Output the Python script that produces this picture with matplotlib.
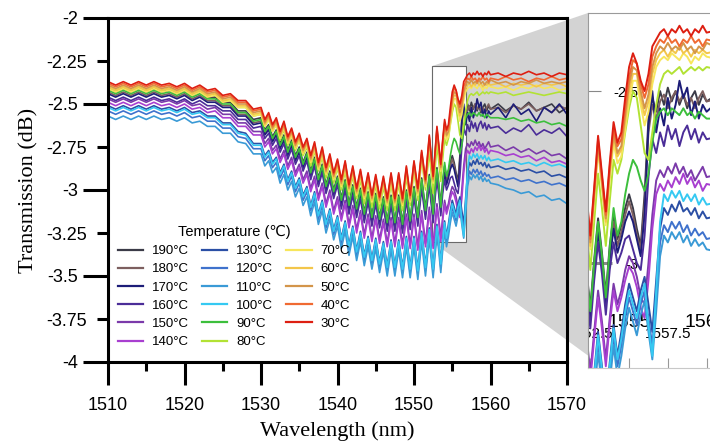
import matplotlib
matplotlib.use("Agg")
import matplotlib.pyplot as plt
from matplotlib.patches import Polygon, Rectangle
from matplotlib.lines import Line2D

# ---------------- data ----------------
wavelength_nm = [
    1510, 1511, 1512, 1513, 1514, 1515, 1516, 1517, 1518, 1519,
    1520, 1521, 1522, 1523, 1524, 1525, 1526, 1527, 1528, 1529,
    1530, 1530.5, 1531, 1531.5, 1532, 1532.5, 1533, 1533.5, 1534, 1534.5,
    1535, 1535.5, 1536, 1536.5, 1537, 1537.5, 1538, 1538.5, 1539, 1539.5,
    1540, 1540.5, 1541, 1541.5, 1542, 1542.5, 1543, 1543.5, 1544, 1544.5,
    1545, 1545.5, 1546, 1546.5, 1547, 1547.5, 1548, 1548.5, 1549, 1549.5,
    1550, 1550.5, 1551, 1551.5,
    1552, 1552.25, 1552.5, 1552.75, 1553, 1553.25, 1553.5, 1553.75, 1554, 1554.25,
    1554.5, 1554.75, 1555, 1555.25, 1555.5, 1555.75, 1556, 1556.25, 1556.5, 1556.75,
    1557, 1557.25, 1557.5, 1557.75, 1558, 1558.25, 1558.5, 1558.75, 1559, 1559.25,
    1559.5, 1559.75, 1560,
    1561, 1562, 1563, 1564, 1565, 1566, 1567, 1568, 1569, 1570]

t190 = [-2.41, -2.43, -2.41, -2.43, -2.41, -2.43, -2.41, -2.43, -2.42, -2.44, -2.42, -2.45, -2.43, -2.46, -2.46, -2.49, -2.49, -2.54, -2.54, -2.59,
        -2.58, -2.65, -2.62, -2.69, -2.65, -2.73, -2.68, -2.77, -2.71, -2.80, -2.75, -2.84, -2.78, -2.89, -2.81, -2.93, -2.85, -2.97, -2.89, -3.00, -2.92, -3.05, -2.94, -3.08, -2.97, -3.10, -2.99, -3.13, -3.01, -3.15, -3.02, -3.16, -3.04, -3.18, -3.03, -3.18, -3.03, -3.19, -3.00, -3.17, -2.98, -3.15, -2.93, -3.11,
        -2.91, -3.02, -3.13, -2.99, -2.87, -2.97, -3.09, -2.95, -2.86, -2.93, -2.89, -2.84, -2.80, -2.84, -2.90, -2.95, -2.80, -2.58, -2.52, -2.56, -2.50, -2.54, -2.49, -2.53, -2.50, -2.54, -2.51, -2.55, -2.52, -2.50, -2.54, -2.51, -2.53,
        -2.50, -2.54, -2.51, -2.53, -2.49, -2.54, -2.52, -2.50, -2.55, -2.52]
t180 = [-2.43, -2.45, -2.43, -2.45, -2.43, -2.45, -2.43, -2.45, -2.44, -2.46, -2.44, -2.47, -2.45, -2.48, -2.48, -2.51, -2.51, -2.56, -2.56, -2.61,
        -2.60, -2.67, -2.64, -2.71, -2.67, -2.75, -2.70, -2.79, -2.73, -2.82, -2.77, -2.86, -2.80, -2.91, -2.83, -2.95, -2.87, -2.99, -2.91, -3.02, -2.94, -3.07, -2.96, -3.10, -2.99, -3.12, -3.01, -3.15, -3.03, -3.17, -3.04, -3.18, -3.06, -3.20, -3.05, -3.20, -3.05, -3.21, -3.02, -3.19, -3.00, -3.17, -2.95, -3.13,
        -2.93, -3.04, -3.15, -3.01, -2.89, -2.99, -3.11, -2.97, -2.88, -2.95, -2.91, -2.86, -2.82, -2.86, -2.92, -2.96, -2.83, -2.62, -2.54, -2.58, -2.53, -2.51, -2.55, -2.52, -2.50, -2.53, -2.51, -2.54, -2.52, -2.55, -2.52, -2.50, -2.53,
        -2.52, -2.55, -2.51, -2.53, -2.50, -2.54, -2.52, -2.55, -2.51, -2.53]
t170 = [-2.44, -2.46, -2.44, -2.46, -2.44, -2.46, -2.44, -2.46, -2.45, -2.47, -2.45, -2.48, -2.46, -2.49, -2.49, -2.52, -2.52, -2.57, -2.57, -2.62,
        -2.61, -2.68, -2.65, -2.72, -2.68, -2.76, -2.71, -2.80, -2.74, -2.83, -2.78, -2.87, -2.81, -2.92, -2.84, -2.96, -2.88, -3.00, -2.92, -3.03, -2.95, -3.08, -2.97, -3.11, -3.00, -3.13, -3.02, -3.16, -3.04, -3.18, -3.05, -3.19, -3.07, -3.21, -3.06, -3.21, -3.06, -3.22, -3.03, -3.20, -3.01, -3.18, -2.96, -3.14,
        -2.94, -3.05, -3.16, -3.02, -2.91, -3.00, -3.12, -2.99, -2.90, -2.97, -2.93, -2.88, -2.85, -2.88, -2.93, -2.98, -2.86, -2.60, -2.50, -2.62, -2.55, -2.60, -2.52, -2.58, -2.54, -2.47, -2.52, -2.49, -2.57, -2.53, -2.58, -2.54, -2.56,
        -2.52, -2.58, -2.50, -2.56, -2.53, -2.60, -2.52, -2.55, -2.50, -2.56]
t160 = [-2.46, -2.48, -2.46, -2.48, -2.46, -2.48, -2.46, -2.48, -2.47, -2.49, -2.47, -2.50, -2.48, -2.51, -2.51, -2.54, -2.54, -2.59, -2.59, -2.64,
        -2.63, -2.70, -2.67, -2.74, -2.70, -2.78, -2.73, -2.82, -2.76, -2.85, -2.80, -2.89, -2.83, -2.94, -2.86, -2.98, -2.90, -3.02, -2.94, -3.05, -2.97, -3.11, -3.00, -3.14, -3.03, -3.16, -3.05, -3.19, -3.07, -3.21, -3.08, -3.22, -3.10, -3.24, -3.09, -3.24, -3.09, -3.25, -3.06, -3.23, -3.04, -3.21, -2.99, -3.17,
        -2.97, -3.08, -3.19, -3.05, -2.94, -3.03, -3.15, -3.02, -2.94, -3.00, -2.97, -2.93, -2.92, -2.96, -3.00, -3.02, -2.92, -2.75, -2.64, -2.68, -2.62, -2.66, -2.60, -2.64, -2.61, -2.66, -2.62, -2.60, -2.64, -2.61, -2.65, -2.62, -2.64,
        -2.63, -2.67, -2.64, -2.66, -2.62, -2.68, -2.65, -2.67, -2.64, -2.69]
t150 = [-2.47, -2.49, -2.47, -2.49, -2.47, -2.49, -2.47, -2.49, -2.48, -2.50, -2.48, -2.51, -2.50, -2.53, -2.52, -2.56, -2.56, -2.61, -2.61, -2.66,
        -2.66, -2.73, -2.70, -2.77, -2.74, -2.82, -2.77, -2.86, -2.81, -2.90, -2.85, -2.94, -2.89, -2.99, -2.92, -3.04, -2.96, -3.08, -3.00, -3.12, -3.04, -3.16, -3.06, -3.20, -3.09, -3.23, -3.12, -3.26, -3.14, -3.28, -3.15, -3.29, -3.17, -3.31, -3.16, -3.31, -3.16, -3.32, -3.14, -3.32, -3.14, -3.33, -3.12, -3.31,
        -3.10, -3.21, -3.32, -3.20, -3.08, -3.17, -3.28, -3.16, -3.06, -3.12, -3.08, -3.02, -2.98, -3.00, -3.04, -3.10, -3.12, -3.00, -2.86, -2.76, -2.73, -2.75, -2.72, -2.74, -2.71, -2.74, -2.72, -2.75, -2.73, -2.76, -2.74, -2.72, -2.75,
        -2.74, -2.77, -2.75, -2.78, -2.76, -2.79, -2.77, -2.80, -2.79, -2.82]
t140 = [-2.49, -2.51, -2.49, -2.51, -2.49, -2.51, -2.49, -2.51, -2.50, -2.52, -2.50, -2.53, -2.52, -2.55, -2.54, -2.58, -2.58, -2.63, -2.63, -2.68,
        -2.68, -2.75, -2.72, -2.79, -2.76, -2.84, -2.79, -2.88, -2.83, -2.92, -2.87, -2.96, -2.91, -3.01, -2.94, -3.06, -2.98, -3.10, -3.02, -3.14, -3.06, -3.18, -3.08, -3.22, -3.11, -3.25, -3.14, -3.28, -3.16, -3.30, -3.17, -3.31, -3.19, -3.33, -3.18, -3.33, -3.18, -3.34, -3.16, -3.34, -3.16, -3.35, -3.14, -3.33,
        -3.12, -3.23, -3.34, -3.22, -3.10, -3.19, -3.30, -3.18, -3.08, -3.14, -3.10, -3.05, -3.01, -3.03, -3.07, -3.13, -3.16, -3.05, -2.90, -2.80, -2.77, -2.79, -2.76, -2.78, -2.75, -2.77, -2.74, -2.77, -2.75, -2.78, -2.76, -2.79, -2.77,
        -2.78, -2.80, -2.79, -2.81, -2.80, -2.83, -2.81, -2.84, -2.83, -2.85]
t130 = [-2.51, -2.53, -2.51, -2.53, -2.51, -2.53, -2.51, -2.53, -2.52, -2.54, -2.52, -2.55, -2.54, -2.57, -2.57, -2.61, -2.61, -2.66, -2.67, -2.73,
        -2.73, -2.80, -2.77, -2.84, -2.81, -2.90, -2.85, -2.94, -2.89, -2.98, -2.93, -3.03, -2.98, -3.09, -3.01, -3.14, -3.06, -3.19, -3.11, -3.23, -3.15, -3.28, -3.18, -3.32, -3.21, -3.35, -3.24, -3.38, -3.27, -3.40, -3.28, -3.42, -3.30, -3.44, -3.29, -3.44, -3.29, -3.45, -3.27, -3.45, -3.27, -3.46, -3.24, -3.44,
        -3.22, -3.34, -3.45, -3.32, -3.20, -3.30, -3.42, -3.29, -3.18, -3.27, -3.20, -3.12, -3.06, -3.10, -3.14, -3.08, -3.04, -3.12, -3.20, -3.05, -2.90, -2.84, -2.86, -2.83, -2.85, -2.82, -2.85, -2.84, -2.86, -2.84, -2.87, -2.85, -2.87,
        -2.86, -2.88, -2.87, -2.89, -2.88, -2.90, -2.89, -2.92, -2.91, -2.93]
t120 = [-2.54, -2.56, -2.54, -2.56, -2.54, -2.56, -2.54, -2.56, -2.55, -2.57, -2.55, -2.58, -2.57, -2.60, -2.60, -2.64, -2.64, -2.69, -2.70, -2.76,
        -2.76, -2.83, -2.80, -2.87, -2.84, -2.93, -2.88, -2.97, -2.92, -3.01, -2.96, -3.06, -3.01, -3.12, -3.04, -3.17, -3.09, -3.22, -3.14, -3.26, -3.18, -3.31, -3.21, -3.35, -3.24, -3.38, -3.27, -3.41, -3.30, -3.43, -3.31, -3.45, -3.33, -3.47, -3.32, -3.47, -3.32, -3.48, -3.30, -3.48, -3.30, -3.49, -3.27, -3.47,
        -3.25, -3.37, -3.48, -3.35, -3.23, -3.33, -3.45, -3.32, -3.21, -3.30, -3.24, -3.16, -3.10, -3.14, -3.18, -3.12, -3.08, -3.16, -3.24, -3.10, -2.94, -2.89, -2.91, -2.88, -2.90, -2.88, -2.91, -2.89, -2.92, -2.90, -2.92, -2.91, -2.93,
        -2.92, -2.94, -2.93, -2.95, -2.94, -2.96, -2.95, -2.97, -2.96, -2.98]
t110 = [-2.57, -2.59, -2.57, -2.59, -2.57, -2.59, -2.57, -2.59, -2.58, -2.60, -2.58, -2.61, -2.60, -2.63, -2.63, -2.67, -2.67, -2.72, -2.73, -2.79,
        -2.79, -2.86, -2.83, -2.90, -2.87, -2.96, -2.91, -3.00, -2.95, -3.04, -2.99, -3.09, -3.04, -3.15, -3.07, -3.20, -3.12, -3.25, -3.17, -3.29, -3.21, -3.34, -3.24, -3.38, -3.27, -3.41, -3.30, -3.44, -3.33, -3.46, -3.34, -3.48, -3.36, -3.50, -3.35, -3.50, -3.35, -3.51, -3.33, -3.51, -3.33, -3.52, -3.30, -3.50,
        -3.28, -3.40, -3.51, -3.38, -3.26, -3.36, -3.48, -3.35, -3.24, -3.33, -3.27, -3.19, -3.13, -3.17, -3.21, -3.15, -3.11, -3.20, -3.28, -3.14, -2.98, -2.92, -2.94, -2.91, -2.93, -2.91, -2.94, -2.92, -2.95, -2.93, -2.95, -2.94, -2.96,
        -2.97, -2.99, -3.00, -3.02, -3.01, -3.04, -3.03, -3.06, -3.05, -3.08]
t100 = [-2.52, -2.54, -2.52, -2.54, -2.52, -2.54, -2.52, -2.54, -2.53, -2.55, -2.53, -2.56, -2.55, -2.58, -2.58, -2.62, -2.62, -2.67, -2.68, -2.74,
        -2.74, -2.81, -2.78, -2.85, -2.82, -2.91, -2.86, -2.95, -2.90, -2.99, -2.94, -3.04, -2.99, -3.10, -3.02, -3.15, -3.07, -3.20, -3.12, -3.24, -3.16, -3.29, -3.19, -3.33, -3.22, -3.36, -3.25, -3.39, -3.28, -3.41, -3.29, -3.43, -3.31, -3.45, -3.30, -3.45, -3.30, -3.46, -3.28, -3.46, -3.28, -3.47, -3.25, -3.45,
        -3.23, -3.35, -3.46, -3.33, -3.21, -3.31, -3.43, -3.30, -3.19, -3.28, -3.22, -3.14, -3.08, -3.12, -3.16, -3.10, -3.06, -3.18, -3.27, -3.08, -2.88, -2.80, -2.82, -2.79, -2.81, -2.79, -2.82, -2.80, -2.82, -2.80, -2.83, -2.81, -2.83,
        -2.82, -2.84, -2.83, -2.85, -2.84, -2.86, -2.84, -2.86, -2.85, -2.87]
t90 = [-2.42, -2.44, -2.42, -2.44, -2.42, -2.44, -2.42, -2.44, -2.43, -2.45, -2.43, -2.46, -2.44, -2.47, -2.47, -2.50, -2.50, -2.55, -2.55, -2.60,
       -2.59, -2.66, -2.63, -2.70, -2.66, -2.74, -2.69, -2.78, -2.72, -2.81, -2.76, -2.85, -2.79, -2.90, -2.82, -2.94, -2.86, -2.98, -2.90, -3.01, -2.93, -3.06, -2.95, -3.09, -2.98, -3.11, -3.00, -3.14, -3.02, -3.16, -3.03, -3.17, -3.05, -3.19, -3.04, -3.19, -3.04, -3.20, -3.01, -3.18, -2.99, -3.16, -2.94, -3.12,
       -2.92, -3.03, -3.14, -3.00, -2.88, -2.98, -3.10, -2.96, -2.84, -2.92, -2.88, -2.80, -2.74, -2.70, -2.72, -2.76, -2.79, -2.74, -2.65, -2.58, -2.56, -2.55, -2.57, -2.55, -2.56, -2.57, -2.55, -2.57, -2.56, -2.58, -2.56, -2.57, -2.58,
       -2.58, -2.59, -2.58, -2.60, -2.59, -2.61, -2.60, -2.62, -2.61, -2.63]
t80 = [-2.40, -2.42, -2.40, -2.42, -2.40, -2.42, -2.40, -2.42, -2.41, -2.43, -2.41, -2.44, -2.42, -2.45, -2.44, -2.48, -2.48, -2.52, -2.52, -2.57,
       -2.56, -2.63, -2.59, -2.66, -2.62, -2.71, -2.65, -2.74, -2.68, -2.77, -2.71, -2.80, -2.75, -2.86, -2.77, -2.89, -2.81, -2.93, -2.84, -2.96, -2.87, -3.00, -2.89, -3.03, -2.92, -3.05, -2.94, -3.08, -2.96, -3.10, -2.97, -3.11, -2.98, -3.12, -2.96, -3.12, -2.96, -3.12, -2.92, -3.09, -2.89, -3.06, -2.82, -3.00,
       -2.78, -2.90, -3.02, -2.88, -2.74, -2.84, -2.95, -2.82, -2.70, -2.74, -2.70, -2.62, -2.55, -2.50, -2.52, -2.60, -2.68, -2.70, -2.62, -2.54, -2.48, -2.45, -2.44, -2.45, -2.44, -2.43, -2.45, -2.44, -2.43, -2.44, -2.43, -2.44, -2.43,
       -2.44, -2.43, -2.45, -2.44, -2.43, -2.44, -2.45, -2.44, -2.43, -2.44]
t70 = [-2.41, -2.43, -2.41, -2.43, -2.41, -2.43, -2.41, -2.43, -2.42, -2.44, -2.42, -2.45, -2.43, -2.46, -2.45, -2.49, -2.48, -2.52, -2.52, -2.57,
       -2.56, -2.63, -2.59, -2.66, -2.62, -2.70, -2.64, -2.73, -2.68, -2.76, -2.71, -2.79, -2.74, -2.84, -2.76, -2.88, -2.79, -2.91, -2.83, -2.94, -2.86, -2.98, -2.87, -3.01, -2.90, -3.03, -2.92, -3.05, -2.94, -3.07, -2.95, -3.08, -2.96, -3.09, -2.94, -3.09, -2.94, -3.09, -2.90, -3.07, -2.87, -3.03, -2.81, -2.98,
       -2.72, -2.84, -2.96, -2.82, -2.67, -2.78, -2.89, -2.76, -2.65, -2.71, -2.69, -2.61, -2.53, -2.47, -2.47, -2.54, -2.60, -2.56, -2.48, -2.43, -2.41, -2.40, -2.41, -2.39, -2.40, -2.41, -2.39, -2.40, -2.42, -2.40, -2.41, -2.39, -2.40,
       -2.41, -2.40, -2.42, -2.40, -2.41, -2.39, -2.41, -2.40, -2.42, -2.41]
t60 = [-2.40, -2.42, -2.40, -2.42, -2.40, -2.42, -2.40, -2.42, -2.41, -2.43, -2.41, -2.44, -2.42, -2.45, -2.44, -2.48, -2.47, -2.51, -2.51, -2.56,
       -2.55, -2.62, -2.58, -2.65, -2.61, -2.69, -2.63, -2.72, -2.67, -2.75, -2.70, -2.78, -2.73, -2.83, -2.75, -2.87, -2.78, -2.90, -2.82, -2.93, -2.85, -2.97, -2.86, -3.00, -2.89, -3.02, -2.91, -3.04, -2.93, -3.06, -2.94, -3.07, -2.95, -3.08, -2.93, -3.08, -2.93, -3.08, -2.89, -3.06, -2.86, -3.02, -2.80, -2.97,
       -2.71, -2.83, -2.95, -2.81, -2.66, -2.77, -2.88, -2.74, -2.63, -2.69, -2.67, -2.59, -2.50, -2.45, -2.45, -2.52, -2.57, -2.53, -2.45, -2.41, -2.39, -2.38, -2.40, -2.38, -2.39, -2.37, -2.39, -2.38, -2.40, -2.38, -2.39, -2.38, -2.39,
       -2.38, -2.40, -2.38, -2.39, -2.38, -2.40, -2.38, -2.39, -2.38, -2.40]
t50 = [-2.39, -2.41, -2.39, -2.41, -2.39, -2.41, -2.39, -2.41, -2.40, -2.42, -2.40, -2.43, -2.41, -2.44, -2.43, -2.47, -2.46, -2.50, -2.50, -2.55,
       -2.54, -2.61, -2.57, -2.64, -2.60, -2.68, -2.62, -2.71, -2.66, -2.74, -2.69, -2.77, -2.72, -2.82, -2.74, -2.86, -2.77, -2.89, -2.81, -2.92, -2.84, -2.96, -2.85, -2.99, -2.88, -3.01, -2.90, -3.03, -2.92, -3.05, -2.93, -3.06, -2.94, -3.07, -2.92, -3.07, -2.92, -3.07, -2.88, -3.05, -2.85, -3.01, -2.79, -2.96,
       -2.70, -2.82, -2.94, -2.80, -2.65, -2.76, -2.87, -2.73, -2.62, -2.68, -2.66, -2.57, -2.48, -2.43, -2.44, -2.50, -2.55, -2.51, -2.43, -2.39, -2.37, -2.38, -2.36, -2.38, -2.37, -2.38, -2.36, -2.38, -2.37, -2.39, -2.37, -2.38, -2.36,
       -2.38, -2.37, -2.39, -2.37, -2.38, -2.36, -2.38, -2.37, -2.38, -2.37]
t40 = [-2.38, -2.40, -2.38, -2.40, -2.38, -2.40, -2.38, -2.40, -2.39, -2.41, -2.39, -2.42, -2.40, -2.43, -2.42, -2.46, -2.45, -2.49, -2.49, -2.54,
       -2.53, -2.60, -2.56, -2.63, -2.59, -2.67, -2.61, -2.70, -2.65, -2.73, -2.68, -2.76, -2.71, -2.81, -2.73, -2.85, -2.76, -2.88, -2.80, -2.91, -2.83, -2.95, -2.84, -2.98, -2.87, -3.00, -2.89, -3.02, -2.91, -3.04, -2.92, -3.05, -2.93, -3.06, -2.91, -3.06, -2.91, -3.06, -2.87, -3.04, -2.84, -3.00, -2.78, -2.95,
       -2.69, -2.81, -2.93, -2.79, -2.64, -2.75, -2.86, -2.72, -2.61, -2.66, -2.64, -2.55, -2.46, -2.41, -2.42, -2.48, -2.52, -2.48, -2.40, -2.37, -2.35, -2.36, -2.34, -2.36, -2.35, -2.37, -2.35, -2.36, -2.34, -2.36, -2.35, -2.37, -2.35,
       -2.36, -2.34, -2.36, -2.35, -2.37, -2.35, -2.36, -2.34, -2.36, -2.35]
t30 = [-2.37, -2.39, -2.37, -2.39, -2.37, -2.39, -2.37, -2.39, -2.38, -2.40, -2.38, -2.41, -2.39, -2.42, -2.41, -2.45, -2.44, -2.48, -2.48, -2.53,
       -2.52, -2.59, -2.55, -2.62, -2.58, -2.66, -2.60, -2.69, -2.64, -2.72, -2.67, -2.75, -2.70, -2.80, -2.72, -2.84, -2.75, -2.87, -2.79, -2.90, -2.82, -2.94, -2.83, -2.97, -2.86, -2.99, -2.88, -3.01, -2.90, -3.03, -2.91, -3.04, -2.92, -3.05, -2.90, -3.05, -2.90, -3.05, -2.86, -3.03, -2.83, -2.99, -2.77, -2.94,
       -2.68, -2.80, -2.92, -2.78, -2.63, -2.74, -2.85, -2.71, -2.59, -2.65, -2.62, -2.52, -2.43, -2.39, -2.42, -2.47, -2.50, -2.45, -2.37, -2.35, -2.33, -2.32, -2.34, -2.32, -2.33, -2.31, -2.33, -2.32, -2.34, -2.32, -2.33, -2.31, -2.33,
       -2.32, -2.34, -2.32, -2.33, -2.31, -2.33, -2.32, -2.34, -2.32, -2.33]

temperature_labels = ['190°C', '180°C', '170°C', '160°C', '150°C', '140°C',
                      '130°C', '120°C', '110°C', '100°C', '90°C', '80°C',
                      '70°C', '60°C', '50°C', '40°C', '30°C']
series = [t190, t180, t170, t160, t150, t140, t130, t120, t110, t100,
          t90, t80, t70, t60, t50, t40, t30]
line_colors = ['#3b3b48', '#7d5f5f', '#1d1d78', '#4b2d98', '#7b3aaa', '#a83fd0',
               '#2b4fa5', '#3f72cc', '#3a9ad6', '#35c9f2', '#3cbf3c', '#b2e234',
               '#f7e65c', '#f3c64a', '#d3954a', '#f06a32', '#dd1f12']

x_major_ticks = [1510, 1520, 1530, 1540, 1550, 1560, 1570]
x_major_labels = ['1510', '1520', '1530', '1540', '1550', '1560', '1570']
x_minor_ticks = [1515, 1525, 1535, 1545, 1555, 1565]
y_major_ticks = [-4, -3.5, -3, -2.5, -2]
y_major_labels = ['-4', '-3.5', '-3', '-2.5', '-2']
y_minor_ticks = [-3.75, -3.25, -2.75, -2.25]
y_minor_labels = ['-3.75', '-3.25', '-2.75', '-2.25']

inset_x_major = [1555, 1560]
inset_x_major_labels = ['1555', '1560']
inset_x_minor = [1552.5, 1557.5]
inset_x_minor_labels = ['1552.5', '1557.5']
inset_y_ticks = [-3, -2.5]
inset_y_labels = ['-3', '-2.5']

zoom_box_x = (1552.35, 1556.8)
zoom_box_y = (-3.30, -2.28)

for s in series:
    assert len(s) == len(wavelength_nm), len(s)

# ---------------- figure ----------------
plt.rcParams['font.family'] = ['Liberation Sans', 'DejaVu Sans']
plt.rcParams['axes.unicode_minus'] = False

W, H = 710, 443
fig = plt.figure(figsize=(W / 100, H / 100), dpi=100)
ax = fig.add_axes([108 / W, 1 - 362 / H, (567 - 108) / W, (362 - 18) / H])

for vals, col in zip(series, line_colors):
    ax.plot(wavelength_nm, vals, color=col, lw=1.2, zorder=2)

ax.set_xlim(1510, 1570)
ax.set_ylim(-4, -2)
ax.set_xticks(x_major_ticks, labels=x_major_labels)
ax.set_xticks(x_minor_ticks, minor=True)
ax.set_yticks(y_major_ticks, labels=y_major_labels)
ax.set_yticks(y_minor_ticks, labels=y_minor_labels, minor=True)
ax.tick_params(axis='y', which='major', direction='out', length=18, width=2.2, pad=3.6, labelsize=13)
ax.tick_params(axis='y', which='minor', direction='out', length=8, width=2.2, pad=7, labelsize=13)
ax.tick_params(axis='x', which='major', direction='out', length=16.5, width=2.2, pad=9, labelsize=13)
ax.tick_params(axis='x', which='minor', direction='out', length=6.5, width=2.2)
for sp in ax.spines.values():
    sp.set_linewidth(2.2)
ax.set_xlabel('Wavelength (nm)', fontsize=16, family='Liberation Serif', labelpad=5)
ax.set_ylabel('Transmission (dB)', fontsize=16, family='Liberation Serif', labelpad=6)

# zoom box and connector
rect = Rectangle((zoom_box_x[0], zoom_box_y[0]), zoom_box_x[1] - zoom_box_x[0],
                 zoom_box_y[1] - zoom_box_y[0], facecolor='white',
                 edgecolor='#6a6a6a', lw=0.8, zorder=1.5)
ax.add_patch(rect)

ax_in = fig.add_axes([588 / W, 1 - 368 / H, (W - 588) / W, (368 - 13) / H])
for vals, col in zip(series, line_colors):
    ax_in.plot(wavelength_nm, vals, color=col, lw=1.4)
ax_in.set_xlim(1552.35, 1560.22)
ax_in.set_ylim(-3.305, -2.273)

inv = fig.transFigure.inverted()
p_tl = ax.transData.transform((zoom_box_x[0], zoom_box_y[1]))
p_bl = ax.transData.transform((zoom_box_x[0], zoom_box_y[0]))
q_t = ax_in.transAxes.transform((0, 1))
q_b = ax_in.transAxes.transform((0, 0.035))
verts = inv.transform([p_tl, q_t, q_b, p_bl])
poly = Polygon(verts, closed=True, transform=fig.transFigure, facecolor='#d3d3d3',
               edgecolor='none', zorder=1, clip_on=False)
ax.add_artist(poly)

ax_in.spines['right'].set_visible(False)
for k in ('top', 'left'):
    ax_in.spines[k].set_color('#9a9a9a')
    ax_in.spines[k].set_linewidth(0.8)
ax_in.spines['bottom'].set_color('#c8c8c8')
ax_in.spines['bottom'].set_linewidth(0.8)
ax_in.set_xticks(inset_x_major, labels=inset_x_major_labels)
ax_in.set_xticks(inset_x_minor, labels=inset_x_minor_labels, minor=True)
ax_in.set_yticks(inset_y_ticks, labels=inset_y_labels)
ax_in.tick_params(axis='x', which='major', direction='in', length=7, width=0.8,
                  color='#999999', pad=-39, labelsize=14)
ax_in.tick_params(axis='x', which='minor', direction='in', length=7, width=0.8,
                  color='#999999', pad=-29.5, labelsize=11)
ax_in.tick_params(axis='y', which='major', direction='in', length=9, width=0.8,
                  color='#888888', pad=-36, labelsize=10.5)
ax_in.tick_params(axis='y', which='minor', left=False)
for t in ax_in.xaxis.get_minor_ticks():
    t.label1.set_clip_box(ax_in.bbox)
    t.label1.set_clip_on(True)
ytk = ax_in.yaxis.get_major_ticks()
ytk[0].tick1line.set_markersize(17)
ytk[0].tick1line.set_markeredgewidth(2.2)
ytk[0].tick1line.set_color('black')

# legend
handles = [Line2D([], [], color=c, lw=1.6) for c in line_colors]
ax.legend(handles, temperature_labels, ncol=3, loc='upper left',
          bbox_to_anchor=(118 / W, 1 - 225 / H), bbox_transform=fig.transFigure,
          frameon=False, title='Temperature (℃)', fontsize=9.5, title_fontsize=10.5,
          handlelength=1.9, handletextpad=0.68, columnspacing=1.0,
          labelspacing=0.45, borderpad=0, borderaxespad=0)

fig.savefig('out.png', dpi=100)
